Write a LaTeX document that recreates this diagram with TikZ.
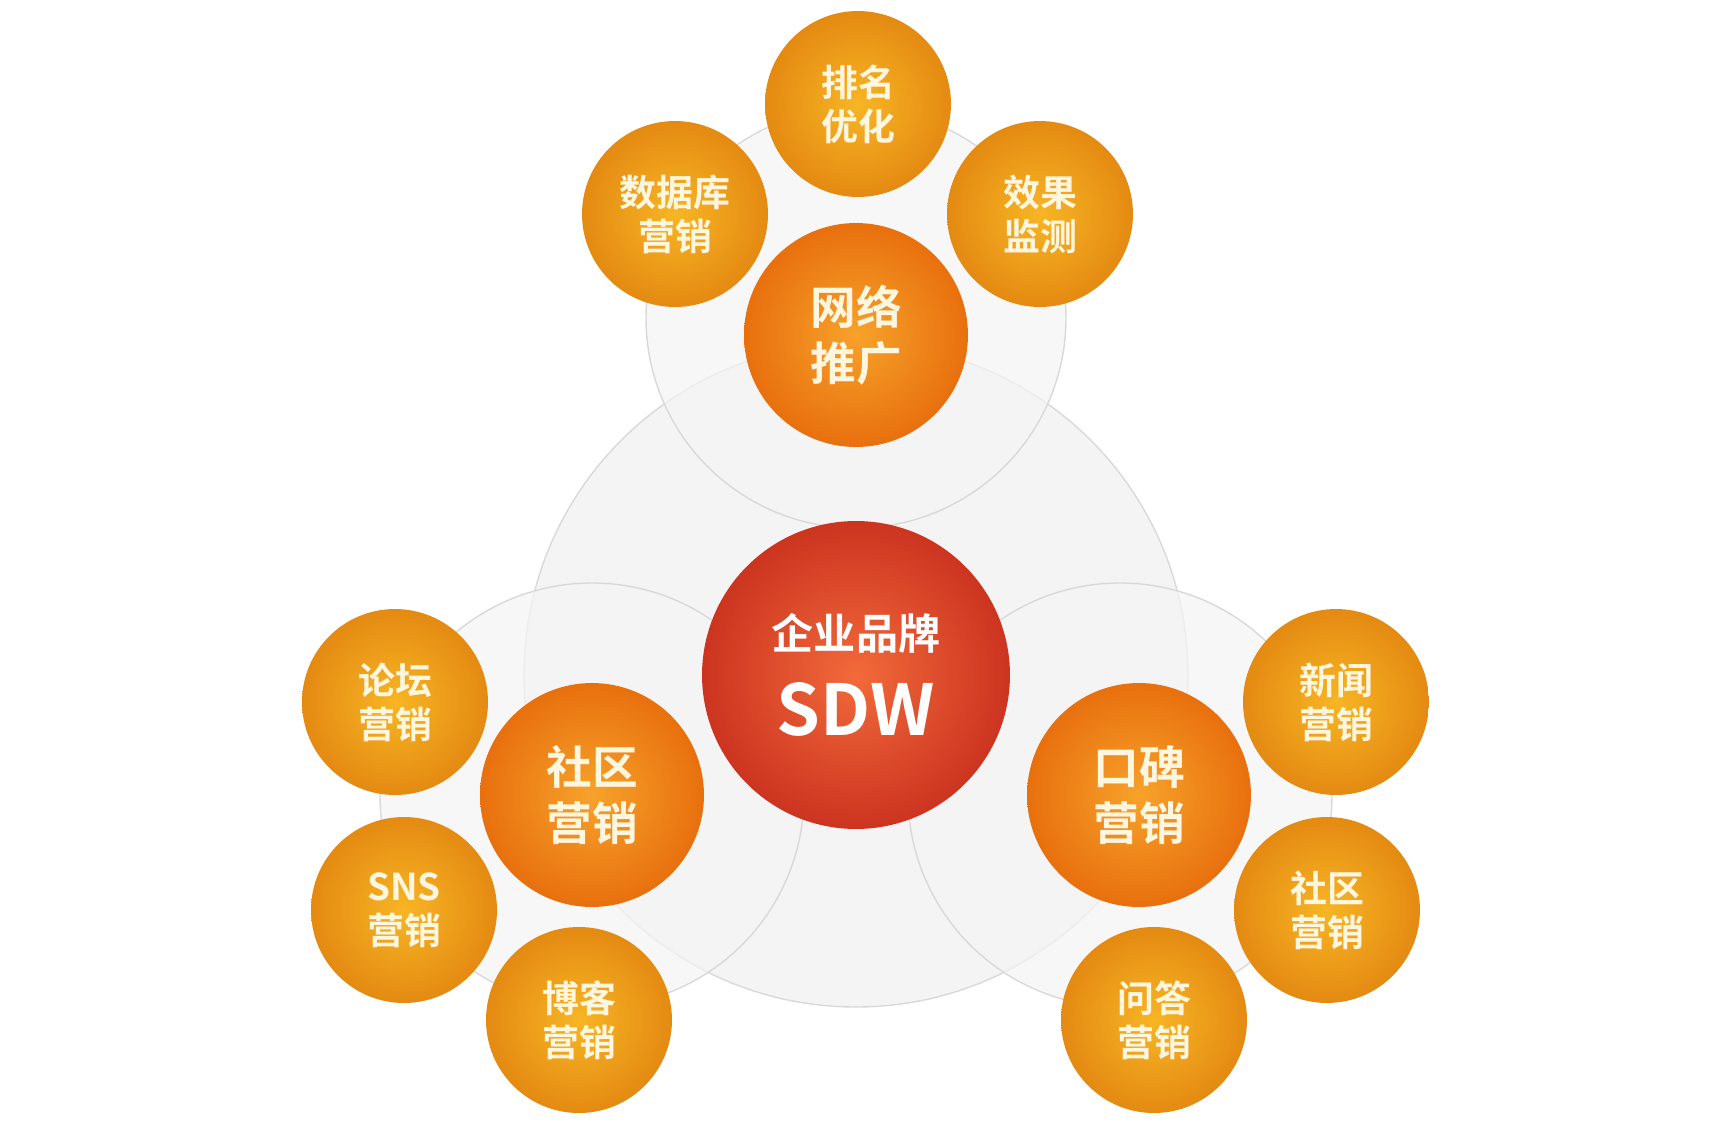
\documentclass[tikz,border=0pt]{standalone}
\usepackage{fontspec}
\newfontfamily\cjk{Noto Sans CJK SC Bold}
\usetikzlibrary{shadings}
\definecolor{ballin}{HTML}{F7B524}
\definecolor{ballout}{HTML}{E48A12}
\definecolor{bigin}{HTML}{F7A22A}
\definecolor{bigout}{HTML}{E8700E}
\definecolor{redin}{HTML}{F26A3A}
\definecolor{redout}{HTML}{CC3420}
\definecolor{txt}{HTML}{FFF6E0}
\tikzset{
 greyc/.style={circle,fill=gray!9,draw=gray!30,line width=0.8pt,fill opacity=0.75},
 smallball/.style={circle,minimum size=3.72cm,inner sep=0pt,inner color=ballin,outer color=ballout,
   text=txt,font=\cjk\fontsize{21}{25}\selectfont,align=center},
 bigball/.style={circle,minimum size=4.48cm,inner sep=0pt,inner color=bigin,outer color=bigout,
   text=txt,font=\cjk\fontsize{26}{32}\selectfont,align=center},
 coreball/.style={circle,minimum size=6.16cm,inner sep=0pt,inner color=redin,outer color=redout,
   text=white,align=center}
}
\begin{document}
\begin{tikzpicture}[x=0.02cm,y=-0.02cm]
\useasboundingbox (0,0) rectangle (1712,1140);
% grey backdrop circles
\fill[gray!9] (856,675) circle (332);
\draw[greyc] (856,675) circle (332);
\draw[greyc] (856,318) circle (210);
\draw[greyc] (592,795) circle (212);
\draw[greyc] (1120,795) circle (212);
% top group
\node[smallball] (pm) at (858,104) {排名\\优化};
\node[smallball] (sj) at (675,214) {数据库\\营销};
\node[smallball] (xg) at (1040,214) {效果\\监测};
\node[bigball] (wl) at (856,335) {网络\\推广};
% left group
\node[smallball] (lt) at (395,702) {论坛\\营销};
\node[smallball] (sns) at (404,910) {SNS\\营销};
\node[smallball] (bk) at (579,1020) {博客\\营销};
\node[bigball] (sq) at (592,795) {社区\\营销};
% right group
\node[smallball] (xw) at (1336,702) {新闻\\营销};
\node[smallball] (sq2) at (1327,910) {社区\\营销};
\node[smallball] (wd) at (1154,1020) {问答\\营销};
\node[bigball] (kb) at (1139,795) {口碑\\营销};
% center
\node[coreball] (core) at (856,675) {{\cjk\fontsize{24}{30}\selectfont 企业品牌}\\[16pt]{\cjk\fontsize{40}{44}\selectfont SDW}};
\end{tikzpicture}
\end{document}
